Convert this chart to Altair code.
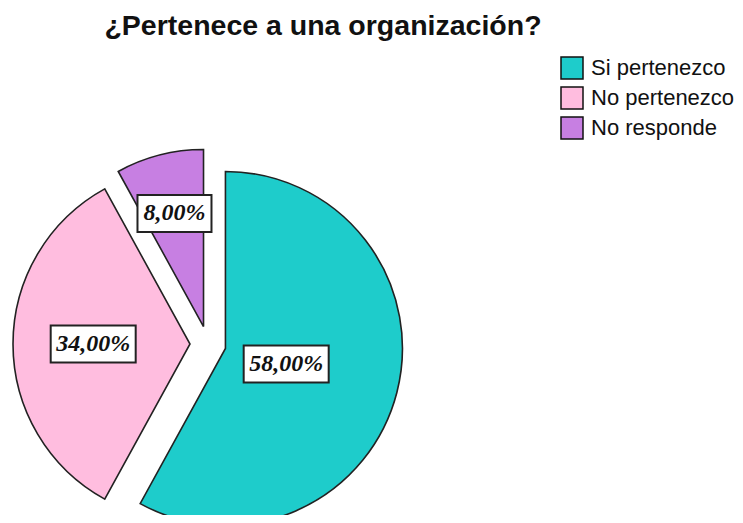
import math
import altair as alt
import pandas as pd

# ---- data ----
categorias = ["Si pertenezco", "No pertenezco", "No responde"]
porcentajes = [58.0, 34.0, 8.0]
etiquetas = ["58,00%", "34,00%", "8,00%"]
orden = [0, 1, 2]

# ---- styles ----
colores = ["#1ecccb", "#ffbddf", "#c77fe2"]
R = 177          # pie radius (px)
EXPLODE = 18     # explode distance (px)
W, H = 400, 342  # plot area used to host the pie
PAD_L, PAD_T = 0, 165
PAD_R = 727 - W - PAD_L
PAD_B = 507 - H - PAD_T

df = pd.DataFrame({
    "categoria": categorias,
    "pct": porcentajes,
    "etiqueta": etiquetas,
    "orden": orden,
})

base = (
    alt.Chart(df)
    .transform_window(cum="sum(pct)", sort=[alt.SortField("orden")], frame=[None, 0])
    .transform_calculate(
        start="datum.cum - datum.pct",
        mid="(datum.cum - datum.pct / 2) / 100 * 2 * PI",
        half="datum.pct / 100 * PI",
    )
    .transform_calculate(
        ex=f"{EXPLODE} * sin(datum.mid)",
        ey=f"{EXPLODE} * cos(datum.mid)",
        cr=f"2 * {R} * sin(datum.half) / (3 * datum.half)",
        bw="length(datum.etiqueta) * 11 + 19",
    )
    .transform_calculate(
        lx="datum.ex + datum.cr * sin(datum.mid)",
        ly="datum.ey + datum.cr * cos(datum.mid)",
    )
    .transform_calculate(
        bx1="datum.lx - datum.bw / 2",
        bx2="datum.lx + datum.bw / 2",
        by1="datum.ly - 18.5",
        by2="datum.ly + 18.5",
    )
)

xs = alt.Scale(domain=[-W / 2, W / 2], nice=False, zero=False)
ys = alt.Scale(domain=[-H / 2, H / 2], nice=False, zero=False)

arcs = base.mark_arc(outerRadius=R, stroke="#222222", strokeWidth=1.6, opacity=1).encode(
    x=alt.X("ex:Q", scale=xs, axis=None),
    y=alt.Y("ey:Q", scale=ys, axis=None),
    theta=alt.Theta("start:Q", scale=alt.Scale(domain=[0, 100], range=[0, 2 * math.pi])),
    theta2="cum:Q",
    color=alt.Color(
        "categoria:N",
        scale=alt.Scale(domain=categorias, range=colores),
        sort=categorias,
        legend=alt.Legend(
            title=None,
            orient="none",
            legendX=552,
            legendY=-117,
            symbolType="square",
            symbolSize=484,
            symbolStrokeColor="#111111",
            symbolStrokeWidth=1.5,
            symbolOpacity=1,
            labelFont="Liberation Sans",
            labelFontSize=22,
            labelColor="#111111",
            labelOffset=7,
            rowPadding=2,
            padding=0,
        ),
    ),
)

boxes = base.mark_rect(fill="white", stroke="#222222", strokeWidth=2, opacity=1).encode(
    x=alt.X("bx1:Q", scale=xs, axis=None),
    x2="bx2:Q",
    y=alt.Y("by1:Q", scale=ys, axis=None),
    y2="by2:Q",
)

texts = base.mark_text(
    font="Liberation Serif",
    fontStyle="italic",
    fontWeight="bold",
    fontSize=24,
    color="#111111",
    align="center",
    baseline="middle",
).encode(
    x=alt.X("lx:Q", scale=xs, axis=None),
    y=alt.Y("ly:Q", scale=ys, axis=None),
    text="etiqueta:N",
)

chart = (
    alt.layer(arcs, boxes, texts)
    .properties(
        width=W,
        height=H,
        autosize="none",
        padding={"left": PAD_L, "top": PAD_T, "right": PAD_R, "bottom": PAD_B},
        title=alt.TitleParams(
            text="¿Pertenece a una organización?",
            font="Liberation Sans",
            fontSize=28.5,
            fontWeight="bold",
            color="#111111",
            anchor="middle",
            frame="group",
            baseline="alphabetic",
            dx=115,
            dy=28,
            offset=21,
        ),
    )
    .configure_view(stroke=None)
)

chart.save("out.html", embed_options={"renderer": "svg", "actions": False})
